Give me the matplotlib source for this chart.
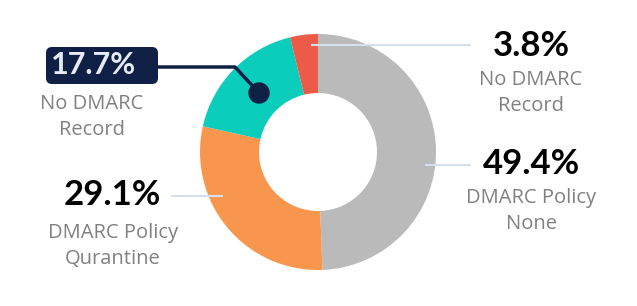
import matplotlib.pyplot as plt
from matplotlib.patches import FancyBboxPatch, Circle

# data
shares = [49.4, 29.1, 17.7, 3.8]
labels = ["DMARC Policy\nNone", "DMARC Policy\nQurantine", "No DMARC\nRecord", "No DMARC\nRecord"]
colors = ["#bababa", "#f9964d", "#0acdbb", "#ec5a48"]

W, H = 637, 306
fig = plt.figure(figsize=(W / 100, H / 100), dpi=100)
ax = fig.add_axes([0, 0, 1, 1])

def Y(y):
    # pixel row -> data y
    return H - y

cx, cy, r = 318, Y(152), 118
ax.pie(shares, colors=colors, startangle=90, counterclock=False,
       radius=r, center=(cx, cy), frame=True,
       wedgeprops=dict(width=r * 0.5, linewidth=0))
ax.set_xlim(0, W)
ax.set_ylim(0, H)
ax.set_aspect("equal")
ax.axis("off")

num_font = dict(family="Lato", fontsize=25, fontweight="bold", color="black")
lab_font = dict(family="Open Sans", fontsize=14.5, color="#808080", linespacing=1.4)
line_c = "#d6e0ec"

# 3.8% - red slice
ax.plot([312, 470], [Y(45), Y(45)], color=line_c, lw=1.5)
ax.text(531, Y(46), f"{shares[3]}%", ha="center", va="center", **num_font)
ax.text(531, Y(93), labels[3], ha="center", va="center", **lab_font)

# 49.4% - gray slice
ax.plot([426, 470], [Y(165), Y(165)], color=line_c, lw=1.5)
ax.text(531, Y(164), f"{shares[0]}%", ha="center", va="center", **num_font)
ax.text(531, Y(211), labels[0], ha="center", va="center", **lab_font)

# 29.1% - orange slice
ax.plot([172, 222], [Y(196), Y(196)], color=line_c, lw=1.5)
ax.text(112, Y(195), f"{shares[1]}%", ha="center", va="center", **num_font)
ax.text(113, Y(246), labels[1], ha="center", va="center", **lab_font)

# 17.7% - teal slice, highlighted
navy = "#0f1f45"
ax.plot([158, 235, 259], [Y(67), Y(67), Y(93)], color=navy, lw=2.5, solid_capstyle="round")
ax.add_patch(Circle((259, Y(93)), 10, color=navy, zorder=5))
ax.add_patch(FancyBboxPatch((46, Y(84)), 112, 37, boxstyle="round,pad=0,rounding_size=6",
                            fc=navy, ec="none", zorder=4))
ax.text(94, Y(65), f"{shares[2]}%", ha="center", va="center", family="Lato",
        fontsize=22, fontweight="bold", color="#e6ecf5", zorder=6)
ax.text(92, Y(117), labels[2], ha="center", va="center", **lab_font)

fig.savefig("out.png", dpi=100)
